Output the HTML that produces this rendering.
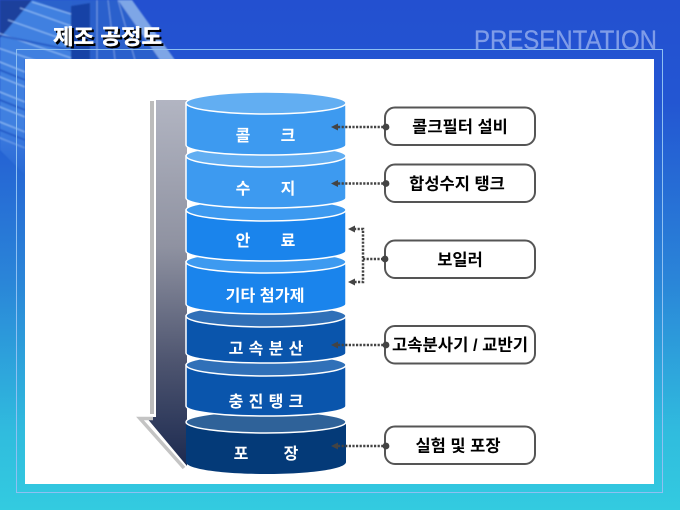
<!DOCTYPE html>
<html lang="ko"><head><meta charset="utf-8"><style>
html,body{margin:0;padding:0;background:#2350d0}
svg{display:block}
text{font-family:"Liberation Sans","Noto Sans CJK KR",sans-serif;font-weight:700}
</style></head><body>
<svg width="680" height="510" viewBox="0 0 680 510" xmlns="http://www.w3.org/2000/svg">
<defs>
<linearGradient id="bg" x1="0" y1="0" x2="0" y2="1">
<stop offset="0" stop-color="#2350d0"/><stop offset=".2" stop-color="#2356d2"/><stop offset=".55" stop-color="#2a85d8"/><stop offset=".85" stop-color="#30bcde"/><stop offset="1" stop-color="#33cbe0"/>
</linearGradient>
<linearGradient id="arr" x1="0" y1="0" x2="0" y2="1">
<stop offset="0" stop-color="#b2b5c2"/><stop offset=".4" stop-color="#8f92a1"/><stop offset=".72" stop-color="#4d546f"/><stop offset="1" stop-color="#1c2a50"/>
</linearGradient>
<linearGradient id="fade" x1="0" y1="0" x2="0" y2="1">
<stop offset="0" stop-color="#fff"/><stop offset=".7" stop-color="#fff"/><stop offset="1" stop-color="#fff" stop-opacity="0"/>
</linearGradient>
<mask id="m"><rect x="0" y="0" width="200" height="180" fill="url(#fade)"/></mask>
<filter id="b" x="-5%" y="-5%" width="110%" height="110%"><feGaussianBlur stdDeviation=".7"/></filter>
</defs>
<rect width="680" height="510" fill="url(#bg)"/>
<!-- building -->
<g mask="url(#m)"><g filter="url(#b)">
<polygon points="0,0 128,0 175,60 25,60 25,175 0,150" fill="#3f80e0"/>
<polygon points="0,0 32,0 0,38" fill="#1b3f9c"/>
<polygon points="32,0 72,0 72,14" fill="#2c62cc"/>
<polygon points="72,0 122,0 175,60 72,60" fill="#2a60cc"/>
<polygon points="71,6 90,3 90,60 71,60" fill="#1743a6"/>
<polygon points="118,0 132,0 175,60 160,60" fill="#7ea6e6"/>
<g stroke="#9cc4f6" stroke-width="1.3" opacity=".75">
<line x1="-5" y1="32" x2="71" y2="58"/><line x1="8" y1="20" x2="71" y2="42"/><line x1="20" y1="8" x2="71" y2="26"/>
<line x1="32" y1="2" x2="71" y2="14"/><line x1="-5" y1="47" x2="40" y2="62"/><line x1="-5" y1="60" x2="25" y2="72"/>
<line x1="-5" y1="75" x2="25" y2="87"/><line x1="-5" y1="90" x2="25" y2="102"/>
<line x1="-5" y1="105" x2="25" y2="117"/><line x1="-5" y1="120" x2="25" y2="132"/><line x1="-5" y1="136" x2="25" y2="148"/>
</g>
<g stroke="#1f52c0" stroke-width="2" opacity=".75">
<line x1="-5" y1="68" x2="25" y2="80"/><line x1="-5" y1="98" x2="25" y2="110"/><line x1="2" y1="36" x2="71" y2="50"/><line x1="-5" y1="128" x2="25" y2="140"/>
</g>
<g stroke="#a8c8f4" stroke-width="1" opacity=".55">
<line x1="97" y1="0" x2="97" y2="60"/><line x1="108" y1="0" x2="115" y2="60"/><line x1="118" y1="0" x2="135" y2="60"/>
</g>
</g></g>
<!-- frame -->
<rect x="16.5" y="49.5" width="646" height="443" fill="none" stroke="#8fc0f2" stroke-width="1"/>
<rect x="25" y="59" width="629" height="425" fill="#fff"/>
<!-- title -->
<text x="107.5" y="44" font-size="21" text-anchor="middle" fill="#000" stroke="#000" stroke-width=".5" transform="translate(2,2)" textLength="109" lengthAdjust="spacingAndGlyphs">제조 공정도</text>
<text x="107.5" y="44" font-size="21" text-anchor="middle" fill="#fff" stroke="#fff" stroke-width=".4" textLength="109" lengthAdjust="spacingAndGlyphs">제조 공정도</text>
<text x="474" y="49" font-size="26.5" fill="#7f9ce8" stroke="#7f9ce8" stroke-width=".3" textLength="183" lengthAdjust="spacingAndGlyphs" style="font-weight:400">PRESENTATION</text>
<!-- big arrow -->
<polygon points="156,100 187,100 187,466 146,417 156,417" fill="url(#arr)"/>
<rect x="150" y="101" width="4" height="313" fill="#bcbcbc"/>
<polyline points="153,418.5 140,418.5 184,468" fill="none" stroke="#c4c4c4" stroke-width="3.5"/>
<!-- cylinders bottom to top -->
<g stroke="#fff" stroke-width="1.5">
<path d="M186 422V462C186 469 222 474 266 474S346 469 346 462V422Z" fill="#043a78" stroke="none"/>
<ellipse cx="266" cy="422" rx="80" ry="11" fill="#2f6299"/>
<path d="M186 365V406C186 412 222 416 266 416S346 412 346 406V365Z" fill="#0a55ac"/>
<ellipse cx="266" cy="365" rx="80" ry="11" fill="#3070b8"/>
<path d="M186 316V353C186 359 222 363 266 363S346 359 346 353V316Z" fill="#0a55ac"/>
<ellipse cx="266" cy="316" rx="80" ry="11" fill="#3070b8"/>
<path d="M186 262V304C186 310 222 314 266 314S346 310 346 304V262Z" fill="#1a84ec"/>
<ellipse cx="266" cy="262" rx="80" ry="11" fill="#3d9af0"/>
<path d="M186 210V251C186 257 222 261 266 261S346 257 346 251V210Z" fill="#1a84ec"/>
<ellipse cx="266" cy="210" rx="80" ry="11" fill="#3d9af0"/>
<path d="M186 156V198C186 204 222 208 266 208S346 204 346 198V156Z" fill="#3d9af0"/>
<ellipse cx="266" cy="156" rx="80" ry="11" fill="#62aef2"/>
<path d="M186 103V145C186 151 222 155 266 155S346 151 346 145V103Z" fill="#3d9af0"/>
<ellipse cx="266" cy="103" rx="80" ry="11" fill="#62aef2"/>
</g>
<!-- cylinder labels -->
<g fill="#fff" font-size="16" text-anchor="middle">
<text x="243" y="141">콜</text><text x="288" y="141">크</text>
<text x="243" y="194">수</text><text x="288" y="194">지</text>
<text x="243" y="246">안</text><text x="288" y="246">료</text>
<text x="265" y="301" textLength="79" lengthAdjust="spacingAndGlyphs">기타 첨가제</text>
<text x="236" y="354">고</text><text x="256" y="354">속</text><text x="276" y="354">분</text><text x="296" y="354">산</text>
<text x="236" y="407">충</text><text x="256" y="407">진</text><text x="276" y="407">탱</text><text x="296" y="407">크</text>
<text x="241" y="459">포</text><text x="291" y="459">장</text>
</g>
<!-- boxes -->
<g fill="#fff" stroke="#555" stroke-width="2">
<rect x="385" y="107.5" width="150" height="37.5" rx="10"/>
<rect x="385" y="164.5" width="150" height="37.5" rx="10"/>
<rect x="385" y="240.5" width="150" height="37.5" rx="10"/>
<rect x="385" y="326" width="150" height="37.5" rx="10"/>
<rect x="385" y="426.5" width="150" height="37.5" rx="10"/>
</g>
<g fill="#000" font-size="16.5" text-anchor="middle">
<text x="460" y="132.500">콜크필터 설비</text>
<text x="457" y="189.500">합성수지 탱크</text>
<text x="460" y="265.500">보일러</text>
<text x="460" y="350.500" textLength="136" lengthAdjust="spacingAndGlyphs">고속분사기 / 교반기</text>
<text x="458" y="451.500">실험 및 포장</text>
</g>
<!-- connectors -->
<g fill="none" stroke="#444" stroke-width="2.5" stroke-dasharray="2.2 1.4">
<path d="M338 127H385"/><path d="M338 183.5H385"/><path d="M338 345H385"/><path d="M338 446H385"/>
<path d="M354 229H363V282H354"/><path d="M363 259H385"/>
</g>
<g fill="#444">
<circle cx="386" cy="127" r="3.4"/><circle cx="386" cy="183.5" r="3.4"/><circle cx="385" cy="259" r="3.4"/><circle cx="386" cy="345" r="3.4"/><circle cx="386" cy="446" r="3.4"/>
<polygon points="331,127 338,123.500 338,130.500"/><polygon points="331,183.500 338,180 338,187"/>
<polygon points="348,229 355,225.500 355,232.500"/><polygon points="348,282 355,278.500 355,285.500"/>
<polygon points="331,345 338,341.500 338,348.500"/><polygon points="331,446 338,442.500 338,449.500"/>
</g>
</svg>
</body></html>
